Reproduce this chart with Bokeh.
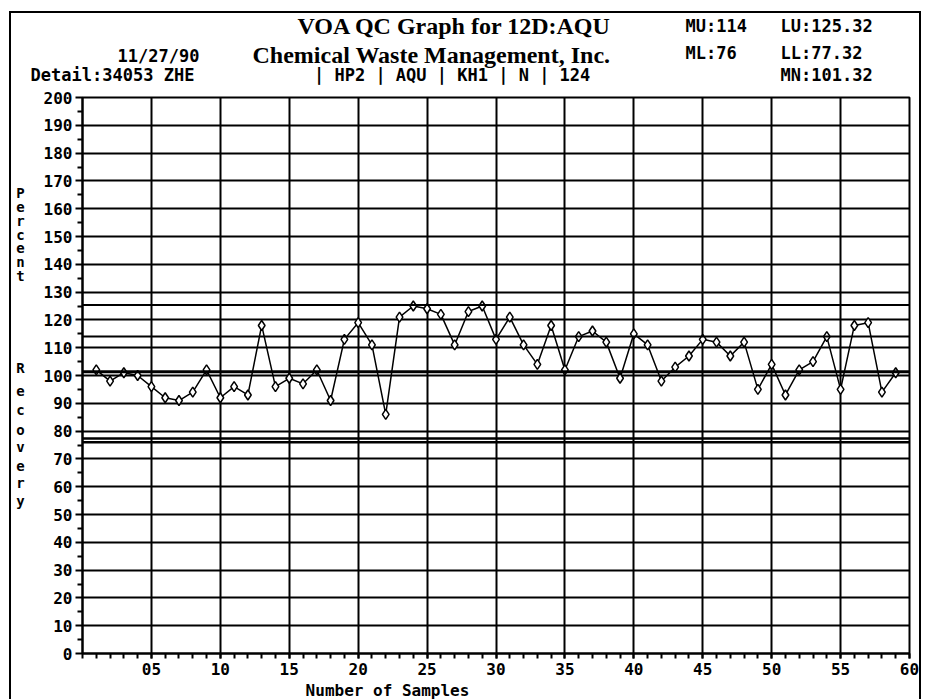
from bokeh.plotting import figure
from bokeh.layouts import column, row
from bokeh.models import FixedTicker, Span, Label, Range1d
from bokeh.embed import file_html
from bokeh.resources import INLINE

# ---------------- data ----------------
samples = list(range(1, 60))
recovery = [102, 98, 101, 100, 96, 92, 91, 94, 102, 92,
            96, 93, 118, 96, 99, 97, 102, 91, 113, 119,
            111, 86, 121, 125, 124, 122, 111, 123, 125, 113,
            121, 111, 104, 118, 102, 114, 116, 112, 99, 115,
            111, 98, 103, 107, 113, 112, 107, 112, 95, 104,
            93, 102, 105, 114, 95, 118, 119, 94, 101]

limit_values = [125.32, 114, 101.32, 77.32, 76]   # LU, MU, MN, LL, ML
limit_widths = [2, 2, 3, 2.5, 2.5]

x_ticks = [5, 10, 15, 20, 25, 30, 35, 40, 45, 50, 55, 60]
x_tick_labels = ["05", "10", "15", "20", "25", "30", "35", "40", "45", "50", "55", "60"]
y_ticks = list(range(0, 201, 10))

title1 = "VOA QC Graph for 12D:AQU"
title2 = "Chemical Waste Management, Inc."
date_text = "11/27/90"
detail_text = "Detail:34053 ZHE"
info_text = "| HP2  | AQU  | KH1  | N | 124"
mu_text = "MU:114"
ml_text = "ML:76"
lu_text = "LU:125.32"
ll_text = "LL:77.32"
mn_text = "MN:101.32"
y_title_top = "Percent"
y_title_bottom = "Recovery"
x_title = "Number of Samples"

MONO = "DejaVu Sans Mono"
SERIF = "Liberation Serif"

# ---------------- layout geometry (page pixels) ----------------
OX, OY = 11, 13          # canvas origin on the page (margin + border)
TOTAL_W = 908
HEAD_H = 75              # header strip: page y 13 .. 88
LEFT_W = 24              # strip for stacked y title
MAIN_TOP, MAIN_BOTTOM = 9, 27
FRAME_H = 556
MAIN_H = MAIN_TOP + FRAME_H + MAIN_BOTTOM     # page y 88 .. 680
FOOT_H = 686 - HEAD_H - MAIN_H                # page y 680 .. 699
MAIN_W = TOTAL_W - LEFT_W


def blank(w, h):
    f = figure(width=w, height=h, output_backend="svg", toolbar_location=None,
               x_range=Range1d(0, w), y_range=Range1d(h, 0),
               x_axis_location=None, y_axis_location=None, min_border=0,
               background_fill_color="white", border_fill_color="white")
    f.grid.visible = False
    f.outline_line_color = None
    return f


def lab(f, text, x, y, size, font=MONO, align="left", style="bold"):
    f.add_layout(Label(x=x, y=y, text=text, text_font=font,
                       text_font_size=size, text_font_style=style,
                       text_align=align, text_baseline="middle", text_color="black"))


# ---------------- header ----------------
head = blank(TOTAL_W, HEAD_H)
hx = lambda X: X - OX
hy = lambda Y: Y - OY
lab(head, title1, hx(454), hy(25), "24px", font=SERIF, align="center")
lab(head, title2, hx(431), hy(54), "24px", font=SERIF, align="center")
lab(head, date_text, hx(158), hy(55), "17px", align="center")
lab(head, detail_text, hx(112), hy(74), "17px", align="center")
lab(head, info_text, hx(467), hy(74), "17px", align="center")
lab(head, mu_text, hx(685), hy(25), "17px")
lab(head, lu_text, hx(780), hy(25), "17px")
lab(head, ml_text, hx(685), hy(52), "17px")
lab(head, ll_text, hx(780), hy(52), "17px")
lab(head, mn_text, hx(780), hy(74), "17px")

# ---------------- stacked y title ----------------
left = blank(LEFT_W, MAIN_H)
ly = lambda Y: Y - (OY + HEAD_H)
top_y = [190, 205, 219, 234, 248, 263, 278]
for ch, yy in zip(y_title_top, top_y):
    lab(left, ch, 20 - OX, ly(yy), "14px", align="center")
bot_y = [376, 400, 421, 442, 460, 480, 498, 518]
for ch, yy in zip(y_title_bottom, bot_y):
    lab(left, ch, 20 - OX, ly(yy), "14px", align="center")

# ---------------- main chart ----------------
p = figure(width=MAIN_W, height=MAIN_H, output_backend="svg", toolbar_location=None,
           x_range=Range1d(0, 60), y_range=Range1d(0, 200),
           min_border_left=MAIN_W - 827 - 10, min_border_right=10,
           min_border_top=MAIN_TOP, min_border_bottom=MAIN_BOTTOM,
           background_fill_color="white", border_fill_color="white")

p.outline_line_color = "black"
p.outline_line_width = 2

p.xgrid.ticker = FixedTicker(ticks=x_ticks)
p.ygrid.ticker = FixedTicker(ticks=y_ticks)
for g in (p.xgrid, p.ygrid):
    g.grid_line_color = "black"
    g.grid_line_width = 2
    g.grid_line_alpha = 1.0

xa = p.xaxis[0]
xa.ticker = FixedTicker(ticks=x_ticks, minor_ticks=list(range(0, 61)))
xa.major_label_overrides = {t: l for t, l in zip(x_ticks, x_tick_labels)}
xa.major_tick_in = 0
xa.major_tick_out = 5
xa.minor_tick_in = 0
xa.minor_tick_out = 5
xa.major_label_standoff = 4

ya = p.yaxis[0]
ya.ticker = FixedTicker(ticks=y_ticks, minor_ticks=list(range(5, 200, 10)))
ya.major_tick_in = 0
ya.major_tick_out = 7
ya.minor_tick_in = 0
ya.minor_tick_out = 5
ya.major_label_standoff = 3

for a in (xa, ya):
    a.axis_line_color = "black"
    a.axis_line_width = 2
    a.major_tick_line_color = "black"
    a.major_tick_line_width = 2
    a.minor_tick_line_color = "black"
    a.minor_tick_line_width = 2
    a.major_label_text_font = MONO
    a.major_label_text_font_style = "bold"
    a.major_label_text_font_size = "16px"
    a.major_label_text_color = "black"

for v, w in zip(limit_values, limit_widths):
    p.add_layout(Span(location=v, dimension="width", line_color="black", line_width=w))

p.line(samples, recovery, line_color="black", line_width=1.5)
p.scatter(samples, recovery, marker="diamond", size=10, fill_color="white",
          line_color="black", line_width=1.5)

# ---------------- footer (x title) ----------------
foot = blank(TOTAL_W, FOOT_H)
lab(foot, x_title, 387 - OX, FOOT_H / 2, "16px", align="center")

layout = column(head, row(left, p, spacing=0), foot, spacing=0,
                styles={"margin-left": "9px", "margin-top": "11px",
                        "border-left": "2px solid black", "border-top": "2px solid black",
                        "border-right": "2px solid black"})

open("out.html", "w").write(file_html(layout, INLINE))
